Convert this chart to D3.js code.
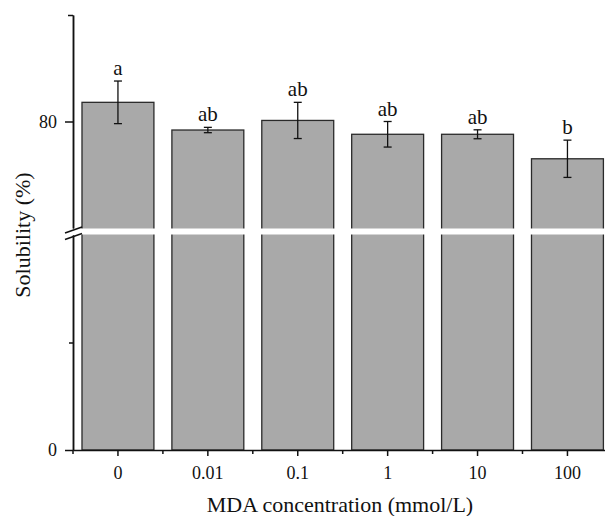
<!DOCTYPE html>
<html>
<head>
<meta charset="utf-8">
<script src="https://cdn.jsdelivr.net/npm/d3@7"></script>
<style>
  body { margin: 0; background: #fff; }
  svg { font-family: "Liberation Serif", "Times New Roman", serif; }
</style>
</head>
<body>
<div id="chart"></div>
<script>
var categories = ["0", "0.01", "0.1", "1", "10", "100"];
var means = [81.8, 79.2, 80.1, 78.8, 78.8, 76.5];
var errors = [2.0, 0.25, 1.7, 1.2, 0.42, 1.75];
var letters = ["a", "ab", "ab", "ab", "ab", "b"];

var data = categories.map((c, i) => ({x: c, y: means[i], e: errors[i], l: letters[i]}));

var width = 605, height = 516;

var svg = d3.select("#chart").append("svg")
    .attr("width", width)
    .attr("height", height);

// broken y axis: two segments
var yLow = d3.scaleLinear().domain([0, 40]).range([450, 235]);
var yHigh = d3.scaleLinear().domain([70, 90]).range([228, 15]);
function y(v) { return v <= 40 ? yLow(v) : yHigh(v); }

var xScale = d3.scaleBand()
    .domain(categories)
    .range([73, 73 + 6 * 89.9])
    .paddingInner(0.2)
    .paddingOuter(0.1);

// bars
svg.selectAll("rect.bar")
    .data(data)
    .enter().append("rect")
    .attr("class", "bar")
    .attr("x", d => xScale(d.x))
    .attr("width", xScale.bandwidth())
    .attr("y", d => y(d.y))
    .attr("height", d => y(0) - y(d.y))
    .attr("fill", "#a9a9a9")
    .attr("stroke", "#2a2a2a")
    .attr("stroke-width", 1.3);

// white gap of the break
svg.append("rect")
    .attr("x", 74)
    .attr("y", 228.5)
    .attr("width", width)
    .attr("height", 6)
    .attr("fill", "#fff");

// error bars
var eb = svg.selectAll("g.err")
    .data(data)
    .enter().append("g")
    .attr("class", "err")
    .attr("stroke", "#111")
    .attr("stroke-width", 1.3);

eb.append("line")
    .attr("x1", d => xScale(d.x) + xScale.bandwidth() / 2)
    .attr("x2", d => xScale(d.x) + xScale.bandwidth() / 2)
    .attr("y1", d => y(d.y + d.e))
    .attr("y2", d => y(d.y - d.e));
eb.selectAll("line.cap")
    .data(d => [d.y + d.e, d.y - d.e].map(v => ({v: v, x: d.x})))
    .enter().append("line")
    .attr("class", "cap")
    .attr("x1", d => xScale(d.x) + xScale.bandwidth() / 2 - 4)
    .attr("x2", d => xScale(d.x) + xScale.bandwidth() / 2 + 4)
    .attr("y1", d => y(d.v))
    .attr("y2", d => y(d.v));

// significance letters
svg.selectAll("text.letter")
    .data(data)
    .enter().append("text")
    .attr("class", "letter")
    .attr("x", d => xScale(d.x) + xScale.bandwidth() / 2)
    .attr("y", d => y(d.y + d.e) - 6)
    .attr("text-anchor", "middle")
    .attr("font-size", "21px")
    .attr("fill", "#111")
    .text(d => d.l);

// y axis, lower and upper parts
function styleAxis(g) {
    g.selectAll("path, line").attr("stroke", "#111").attr("stroke-width", 1.5);
    g.selectAll("text").attr("font-size", "18px").attr("fill", "#111")
        .attr("font-family", "Liberation Serif, serif");
}

svg.append("g")
    .attr("transform", "translate(73,0)")
    .call(d3.axisLeft(yLow).tickValues([0]).tickSize(8).tickPadding(8).tickSizeOuter(0))
    .call(styleAxis);
svg.append("g")
    .attr("transform", "translate(73,0)")
    .call(d3.axisLeft(yLow).tickValues([20]).tickSize(4).tickFormat("").tickSizeOuter(0))
    .call(styleAxis);
svg.append("g")
    .attr("transform", "translate(73,0)")
    .call(d3.axisLeft(yHigh).tickValues([80]).tickSize(8).tickPadding(8).tickSizeOuter(0))
    .call(styleAxis);
svg.append("g")
    .attr("transform", "translate(73,0)")
    .call(d3.axisLeft(yHigh).tickValues([90]).tickSize(5).tickFormat("").tickSizeOuter(0))
    .call(styleAxis);

// break marks
[0, 6.5].forEach(function(dy) {
    svg.append("line")
        .attr("x1", 65).attr("y1", 233 + dy)
        .attr("x2", 82).attr("y2", 227 + dy)
        .attr("stroke", "#111")
        .attr("stroke-width", 1.5);
});

// x axis
svg.append("g")
    .attr("transform", "translate(0,450)")
    .call(d3.axisBottom(xScale).tickSize(6).tickPadding(10).tickSizeOuter(0))
    .call(styleAxis);

// minor x ticks at band edges
var edges = d3.range(categories.length + 1).map(i => xScale.range()[0] + i * xScale.step());
svg.selectAll("line.minor")
    .data(edges)
    .enter().append("line")
    .attr("class", "minor")
    .attr("x1", d => d).attr("x2", d => d)
    .attr("y1", 450).attr("y2", 454)
    .attr("stroke", "#111")
    .attr("stroke-width", 1.5);

// axis titles
svg.append("text")
    .attr("x", 340)
    .attr("y", 512)
    .attr("text-anchor", "middle")
    .attr("font-size", "22px")
    .attr("fill", "#111")
    .text("MDA concentration (mmol/L)");

svg.append("text")
    .attr("transform", "translate(30,235) rotate(-90)")
    .attr("text-anchor", "middle")
    .attr("font-size", "22px")
    .attr("fill", "#111")
    .text("Solubility (%)");
</script>
</body>
</html>
